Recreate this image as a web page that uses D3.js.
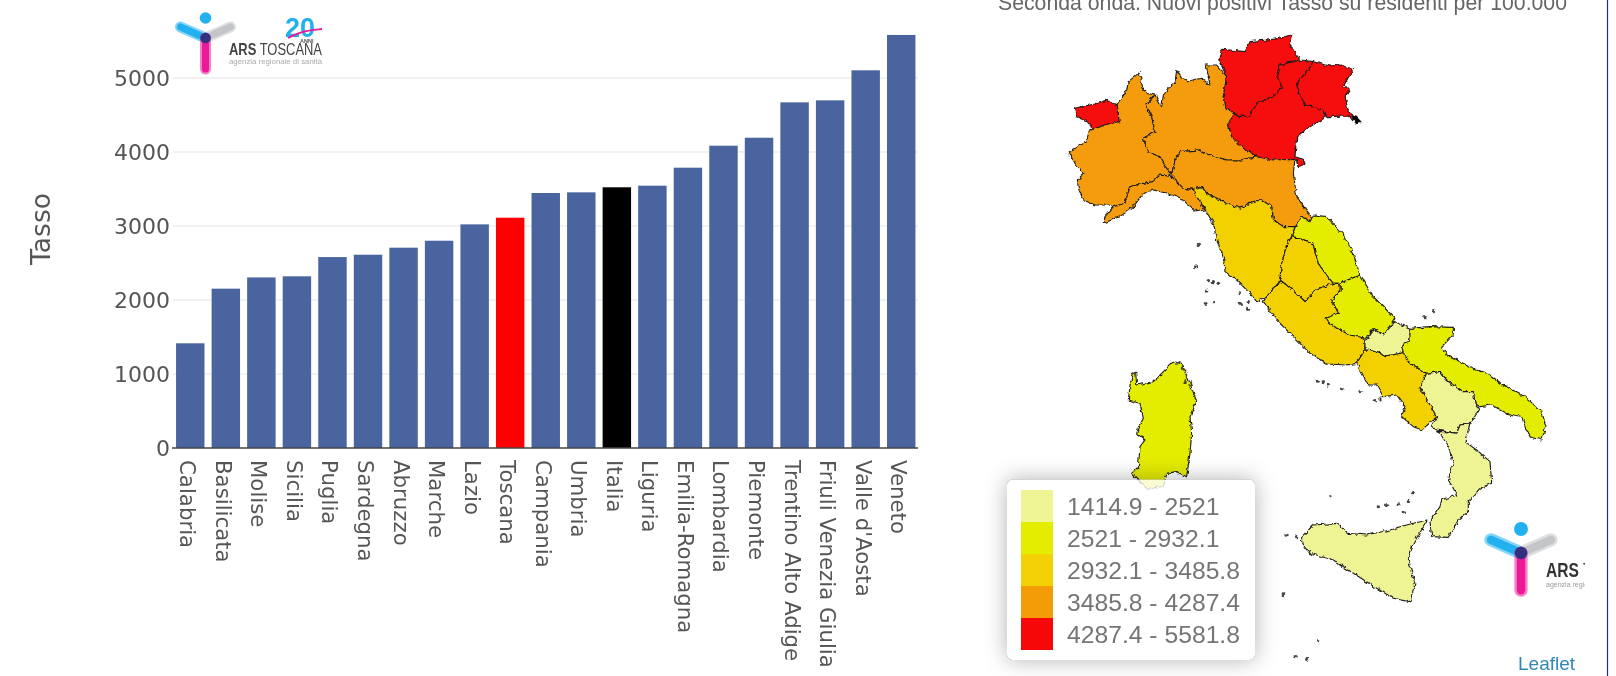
<!DOCTYPE html>
<html>
<head>
<meta charset="utf-8">
<script src="https://cdn.jsdelivr.net/npm/d3@7"></script>
<style>
html,body{margin:0;padding:0;background:#fff;overflow:hidden}
svg{display:block;filter:blur(.55px)}
</style>
</head>
<body>
<svg id="c" width="1616" height="676"></svg>
<script>
// ---------- bar chart data ----------
const categories = ["Calabria","Basilicata","Molise","Sicilia","Puglia","Sardegna","Abruzzo","Marche","Lazio","Toscana","Campania","Umbria","Italia","Liguria","Emilia-Romagna","Lombardia","Piemonte","Trentino Alto Adige","Friuli Venezia Giulia","Valle d'Aosta","Veneto"];
const values = [1414.9,2153,2305,2320,2580,2612,2707,2801,3022,3112,3446,3455,3523,3545,3788,4085,4193,4671,4698,5104,5581.8];
const yTicks = [0,1000,2000,3000,4000,5000];
const highlight = {"Toscana":"#ff0000","Italia":"#000000"};
// ---------- legend data ----------
const breaks = [2521,2932.1,3485.8,4287.4];
const legendLabels = ["1414.9 - 2521","2521 - 2932.1","2932.1 - 3485.8","3485.8 - 4287.4","4287.4 - 5581.8"];
const legendColors = ["#eef394","#e4ec00","#f3d106","#f49c07","#f60808"];
const titleText = "Seconda onda. Nuovi positivi Tasso su residenti per 100.000";
// ---------- region outlines, traced in map units ----------
const valle = [[284,325],[312,318],[345,312],[380,300],[410,315],[418,365],[385,372],[340,388],[322,365],[290,350]];
const piemonte = [[418,365],[412,312],[440,270],[445,245],[478,218],[488,262],[500,280],[525,285],[498,315],[515,350],[525,395],[490,415],[505,455],[540,470],[560,505],[575,520],[540,540],[518,545],[480,552],[450,560],[435,610],[400,620],[385,615],[345,615],[310,600],[295,565],[292,540],[312,520],[285,490],[265,455],[320,425],[330,385],[340,388],[385,372]];
const lombardia = [[498,315],[525,285],[545,320],[550,285],[585,245],[590,212],[605,235],[625,242],[665,235],[690,255],[678,195],[710,195],[740,230],[730,290],[735,325],[765,340],[745,370],[755,410],[790,445],[830,470],[780,480],[740,480],[680,462],[660,450],[600,455],[585,480],[578,510],[575,520],[560,505],[540,470],[505,455],[490,415],[525,395],[515,350]];
const trentino = [[716,178],[725,148],[750,150],[795,155],[810,125],[860,120],[900,115],[938,103],[930,135],[960,180],[900,195],[890,225],[905,260],[880,290],[830,310],[808,348],[775,350],[765,340],[735,325],[730,290],[740,230]];
const veneto = [[960,180],[1000,185],[985,210],[950,250],[960,285],[975,315],[1030,330],[1040,350],[990,380],[950,410],[945,470],[970,478],[975,492],[955,500],[948,480],[880,480],[830,470],[790,445],[755,410],[745,370],[765,340],[775,350],[808,348],[830,310],[880,290],[905,260],[890,225],[900,195]];
const friuli = [[1000,185],[1050,198],[1080,195],[1120,208],[1110,225],[1085,262],[1112,265],[1095,290],[1105,335],[1118,345],[1118,362],[1108,348],[1040,350],[1030,330],[975,315],[960,285],[950,250],[985,210]];
const emilia = [[578,510],[585,480],[600,455],[660,450],[680,462],[740,480],[780,480],[830,470],[880,480],[945,478],[940,520],[950,590],[975,625],[998,655],[990,665],[965,650],[945,680],[910,680],[880,660],[875,620],[845,600],[810,610],[780,625],[735,610],[710,595],[680,580],[665,560],[640,568],[610,565],[590,545],[575,530]];
const liguria = [[370,670],[375,650],[400,620],[435,610],[450,560],[480,552],[518,545],[540,525],[575,530],[590,545],[610,565],[640,568],[650,590],[675,630],[650,635],[620,610],[590,590],[560,580],[520,570],[490,580],[460,620],[420,650]];
const toscana = [[640,568],[665,560],[680,580],[710,595],[735,610],[780,625],[810,610],[845,600],[875,620],[880,660],[910,680],[945,680],[935,710],[920,735],[905,790],[900,830],[895,850],[860,890],[830,905],[810,880],[770,840],[735,815],[730,770],[710,720],[700,670],[670,620],[650,590]];
const umbria = [[935,710],[965,715],[1000,735],[1015,790],[1040,825],[1060,850],[1005,870],[975,905],[945,875],[900,840],[905,790],[920,735]];
const marche = [[950,670],[965,650],[990,665],[1000,645],[1040,650],[1090,705],[1120,760],[1140,825],[1080,850],[1060,850],[1040,825],[1015,790],[1000,735],[965,715],[935,710]];
const abruzzo = [[1080,850],[1140,825],[1180,890],[1220,930],[1245,955],[1220,995],[1210,1005],[1180,988],[1155,1015],[1110,1005],[1070,985],[1035,955],[1075,940],[1055,900],[1080,870]];
const lazio = [[895,850],[900,840],[945,875],[975,905],[1005,870],[1060,850],[1080,850],[1080,870],[1055,900],[1075,940],[1035,955],[1070,985],[1110,1005],[1155,1015],[1155,1050],[1130,1090],[1100,1095],[1040,1092],[990,1060],[940,1010],[890,960],[850,905],[860,890]];
const molise = [[1155,1025],[1180,988],[1210,1005],[1245,965],[1290,985],[1290,1025],[1265,1035],[1270,1058],[1220,1068],[1175,1052],[1155,1050]];
const campania = [[1130,1090],[1155,1050],[1175,1052],[1220,1068],[1270,1058],[1290,1090],[1340,1120],[1320,1160],[1370,1250],[1325,1290],[1300,1280],[1265,1250],[1275,1220],[1250,1185],[1210,1190],[1190,1155],[1165,1155]];
const puglia = [[1290,985],[1350,980],[1420,982],[1420,1005],[1385,1040],[1400,1065],[1470,1100],[1530,1125],[1570,1155],[1635,1190],[1685,1235],[1698,1280],[1685,1320],[1650,1310],[1635,1280],[1625,1250],[1580,1240],[1535,1215],[1500,1220],[1485,1210],[1480,1175],[1445,1175],[1400,1140],[1380,1115],[1340,1120],[1290,1090],[1270,1058],[1265,1035],[1290,1025]];
const basilicata = [[1340,1120],[1380,1115],[1400,1140],[1445,1175],[1480,1175],[1485,1210],[1498,1225],[1470,1270],[1440,1275],[1430,1300],[1400,1295],[1370,1290],[1355,1280],[1370,1250],[1320,1160]];
const calabria = [[1370,1295],[1400,1295],[1430,1300],[1440,1275],[1470,1272],[1455,1325],[1490,1350],[1530,1385],[1535,1450],[1500,1465],[1465,1505],[1465,1535],[1435,1560],[1405,1612],[1355,1610],[1350,1565],[1380,1520],[1385,1500],[1430,1485],[1415,1455],[1405,1440],[1420,1390],[1405,1340],[1380,1300]];
const sicilia = [[965,1610],[1000,1575],[1070,1570],[1105,1600],[1160,1605],[1230,1590],[1260,1580],[1300,1570],[1340,1560],[1340,1565],[1300,1630],[1285,1680],[1305,1750],[1290,1805],[1240,1795],[1190,1765],[1120,1720],[1060,1680],[990,1660],[965,1630]];
const sardegna = [[450,1155],[460,1120],[467,1115],[470,1155],[520,1145],[580,1085],[605,1090],[630,1150],[650,1205],[630,1250],[635,1300],[630,1360],[620,1430],[590,1415],[560,1420],[550,1460],[500,1465],[475,1440],[455,1420],[475,1400],[480,1340],[495,1320],[470,1300],[475,1285],[490,1255],[480,1210],[445,1200]];
const trieste = [[1115,345],[1130,350],[1145,365],[1125,370]];
const islets = [[655,733],[647,800],[680,873],[778,878],[780,910],[805,905],[703,905],[677,910],[803,928],[685,842],[700,845],[715,850],[1335,950],[1360,932],[1012,1143],[1030,1145],[1085,1166],[1140,1175],[1183,1203],[1200,1197],[1045,1155],[1050,1490],[1300,1478],[1195,1520],[1220,1515],[918,1605],[950,1610],[910,1785],[1015,1923],[948,1970],[980,1978],[1285,1502],[1270,1535],[1255,1512],[595,1090],[605,1105],[620,1125],[635,1148],[615,1145],[460,1118]];
const regionShapes = {"Valle d'Aosta":valle,"Piemonte":piemonte,"Lombardia":lombardia,"Trentino Alto Adige":trentino,"Veneto":veneto,"Friuli Venezia Giulia":friuli,"Emilia-Romagna":emilia,"Liguria":liguria,"Toscana":toscana,"Umbria":umbria,"Marche":marche,"Abruzzo":abruzzo,"Lazio":lazio,"Molise":molise,"Campania":campania,"Puglia":puglia,"Basilicata":basilicata,"Calabria":calabria,"Sicilia":sicilia,"Sardegna":sardegna};

// ---------- drawing ----------
const svg = d3.select("#c");
const font = "'DejaVu Sans',sans-serif", sans = "'Liberation Sans',Arial,sans-serif";
const defs = svg.append("defs");
const rough = defs.append("filter").attr("id","rough").attr("x","-5%").attr("y","-5%").attr("width","110%").attr("height","110%");
rough.append("feTurbulence").attr("type","fractalNoise").attr("baseFrequency",.22).attr("numOctaves",2).attr("seed",4).attr("result","n");
rough.append("feDisplacementMap").attr("in","SourceGraphic").attr("in2","n").attr("scale",4.5).attr("xChannelSelector","R").attr("yChannelSelector","G");

const x = d3.scaleBand().domain(categories).range([172.5,919]).paddingInner(.2).paddingOuter(.1);
const y = d3.scaleLinear().domain([0,5000]).range([448,78]);

// gridlines
svg.append("g").selectAll("line").data(yTicks.slice(1)).join("line")
  .attr("x1",173).attr("x2",918).attr("y1",d=>y(d)).attr("y2",d=>y(d))
  .attr("stroke","#eeeeee").attr("stroke-width",1.4);
// bars
svg.append("g").selectAll("rect").data(categories).join("rect")
  .attr("x",d=>x(d)).attr("width",x.bandwidth())
  .attr("y",(d,i)=>y(values[i])).attr("height",(d,i)=>y(0)-y(values[i]))
  .attr("fill",d=>highlight[d]||"#4a64a0");
// y axis
const yAxis = svg.append("g").attr("transform","translate(173,0)").call(d3.axisLeft(y).tickValues(yTicks).tickSize(0).tickPadding(3).tickFormat(d3.format("d")));
yAxis.select(".domain").remove();
yAxis.selectAll("text").attr("font-family",font).attr("font-size",22).attr("fill","#555");
// x axis
const xAxis = svg.append("g").attr("transform","translate(0,448)").call(d3.axisBottom(x).tickSize(0));
xAxis.select(".domain").attr("stroke","#444").attr("stroke-width",1.6).attr("d","M172,0H918");
xAxis.selectAll("text").attr("font-family",font).attr("font-size",21.3).attr("fill","#555")
  .attr("text-anchor","start").attr("dy",0).attr("y",0)
  .attr("transform","translate(-4,12) rotate(90)").attr("dominant-baseline","middle");
// y title
svg.append("text").attr("transform","translate(50,229) rotate(-90)").attr("text-anchor","middle")
  .attr("font-family",font).attr("font-size",26.5).attr("fill","#555").text("Tasso");

// logo helper
function logo(g,cx,cy,s){
  const arm=(x2,y2,c)=>{
    const base=g.append("g");
    base.append("line").attr("x1",cx).attr("y1",cy).attr("x2",cx+x2*s).attr("y2",cy+y2*s).attr("stroke",c).attr("stroke-width",11*s).attr("stroke-linecap","round").attr("opacity",.55);
    base.append("line").attr("x1",cx).attr("y1",cy).attr("x2",cx+x2*s).attr("y2",cy+y2*s).attr("stroke",c).attr("stroke-width",7*s).attr("stroke-linecap","round");
  };
  arm(25,-11,"#c4c5c8");arm(-25,-11,"#22b0ee");arm(0,31,"#ec1a98");
  g.append("circle").attr("cx",cx).attr("cy",cy-20*s).attr("r",5.8*s).attr("fill","#22b0ee");
  g.append("circle").attr("cx",cx).attr("cy",cy).attr("r",5.2*s).attr("fill","#33307e");
}
const lg1 = svg.append("g");
logo(lg1,205.5,38,1);
const ars1 = lg1.append("text").attr("x",229).attr("y",55).attr("font-family",sans).attr("font-size",16.5).attr("fill","#444").attr("textLength",93).attr("lengthAdjust","spacingAndGlyphs");
ars1.append("tspan").attr("font-weight","bold").text("ARS");
ars1.append("tspan").text(" TOSCANA");
lg1.append("text").attr("x",229).attr("y",64).attr("font-family",sans).attr("font-size",7).attr("fill","#aaa").attr("textLength",93).attr("lengthAdjust","spacingAndGlyphs").text("agenzia regionale di sanità");
lg1.append("text").attr("x",285).attr("y",37).attr("font-family",sans).attr("font-weight","bold").attr("font-size",27).attr("fill","#22b0ee").text("20");
lg1.append("path").attr("d",d3.line().curve(d3.curveBasis)([[288,38],[302,31],[322,29]])).attr("fill","none").attr("stroke","#ec1a98").attr("stroke-width",1.8);
lg1.append("text").attr("x",300).attr("y",42.5).attr("font-family",sans).attr("font-size",5.5).attr("font-weight","bold").attr("fill","#555").text("ANNI");

// map
const projection = d3.geoIdentity().scale(1/3).translate([980,0]);
const path = d3.geoPath(projection);
const color = d3.scaleThreshold().domain(breaks).range(legendColors);
const poly = c=>({type:"Polygon",coordinates:[[...c,c[0]]]});
const mapG = svg.append("g").attr("filter","url(#rough)");
mapG.selectAll("path.reg").data(Object.keys(regionShapes)).join("path").attr("class","reg")
  .attr("d",d=>path(poly(regionShapes[d])))
  .attr("fill",d=>color(values[categories.indexOf(d)]))
  .attr("stroke","#1c1c1c").attr("stroke-width",1.1).attr("stroke-linejoin","round");
mapG.append("path").attr("d",path(poly(trieste))).attr("fill","#111");
path.pointRadius(1.7);
mapG.selectAll("path.isl").data(islets).join("path").attr("class","isl")
  .attr("d",d=>path({type:"Point",coordinates:d})).attr("fill","#444");

// second logo (clipped)
defs.append("clipPath").attr("id","lc").append("rect").attr("x",1480).attr("y",510).attr("width",105).attr("height",100);
const lg2 = svg.append("g").attr("clip-path","url(#lc)");
logo(lg2,1521,553,1.2);
const ars2 = lg2.append("text").attr("x",1546).attr("y",577).attr("font-family",sans).attr("font-size",20).attr("fill","#333").attr("textLength",112).attr("lengthAdjust","spacingAndGlyphs");
ars2.append("tspan").attr("font-weight","bold").text("ARS");
ars2.append("tspan").text(" TOSCANA");
lg2.append("text").attr("x",1546).attr("y",587).attr("font-family",sans).attr("font-size",7).attr("fill","#999").text("agenzia regionale di sanità");

// legend (shadow only outside the box)
const lb = {x:1007,y:479.5,w:248,h:180.5,r:6};
const boxPath = `M${lb.x+lb.r},${lb.y}h${lb.w-2*lb.r}a${lb.r},${lb.r} 0 0 1 ${lb.r},${lb.r}v${lb.h-2*lb.r}a${lb.r},${lb.r} 0 0 1 -${lb.r},${lb.r}h-${lb.w-2*lb.r}a${lb.r},${lb.r} 0 0 1 -${lb.r},-${lb.r}v-${lb.h-2*lb.r}a${lb.r},${lb.r} 0 0 1 ${lb.r},-${lb.r}z`;
defs.append("clipPath").attr("id","outside").append("path").attr("clip-rule","evenodd").attr("d",`M900,380H1360V760H900Z${boxPath}`);
const leg = svg.append("g");
leg.append("g").attr("clip-path","url(#outside)").append("path").attr("d",boxPath).attr("fill","#000").style("filter","drop-shadow(0 0 11px rgba(0,0,0,.3))");
leg.append("path").attr("d",boxPath).attr("fill","rgba(255,255,255,.82)");
const ly = d3.scaleBand().domain(legendLabels).range([490,650]);
leg.selectAll("rect.sw").data(legendLabels).join("rect").attr("class","sw")
  .attr("x",1021).attr("width",32).attr("y",d=>ly(d)).attr("height",ly.bandwidth())
  .attr("fill",(d,i)=>legendColors[i]);
leg.selectAll("text").data(legendLabels).join("text")
  .attr("x",1067).attr("y",d=>ly(d)+ly.bandwidth()/2+8.5)
  .attr("font-family",sans).attr("font-size",24.7).attr("fill","#757575").text(d=>d);

// title, attribution, frame line
svg.append("text").attr("x",998).attr("y",10).attr("font-family",sans).attr("font-size",21.25).attr("fill","#666").text(titleText);
svg.append("text").attr("x",1518).attr("y",670).attr("font-family",sans).attr("font-size",19).attr("fill","#2f89b5").text("Leaflet");
svg.append("line").attr("x1",1607.5).attr("x2",1607.5).attr("y1",0).attr("y2",676).attr("stroke","#2222dd").attr("stroke-width",1.2);
</script>
</body>
</html>
